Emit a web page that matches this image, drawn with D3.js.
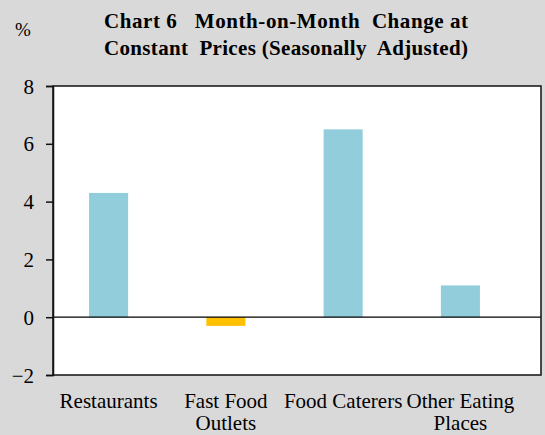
<!DOCTYPE html>
<html><head><meta charset="utf-8">
<script src="https://cdn.jsdelivr.net/npm/d3@7"></script>
<style>body{margin:0;background:#d9d9d9;} svg{display:block;}</style>
</head><body>
<script>
const categories = [["Restaurants"], ["Fast Food", "Outlets"], ["Food Caterers"], ["Other Eating", "Places"]];
const values = [4.3, -0.3, 6.5, 1.1];
const yTicks = [-2, 0, 2, 4, 6, 8];
const titleLines = ["Chart 6   Month-on-Month  Change at", "Constant  Prices (Seasonally  Adjusted)"];
const unitLabel = "%";

const FONT = "'Liberation Serif'";
const W = 545, H = 435;
const svg = d3.select("body").append("svg").attr("width", W).attr("height", H);
svg.append("rect").attr("width", W).attr("height", H).attr("fill", "#d9d9d9");

const plot = {left: 53, right: 541, top: 86, bottom: 375};
const y = d3.scaleLinear().domain([-2, 8]).range([plot.bottom, plot.top]);
const x = d3.scaleBand().domain(categories.map((c, i) => i)).range([50, 519]).paddingInner(0.667).paddingOuter(0.333);

svg.append("rect").attr("x", plot.left).attr("y", plot.top).attr("width", plot.right - plot.left).attr("height", plot.bottom - plot.top).attr("fill", "#fff");

svg.selectAll("rect.bar").data(values).enter().append("rect").attr("class", "bar")
  .attr("x", (d, i) => x(i)).attr("width", x.bandwidth())
  .attr("y", d => y(Math.max(0, d))).attr("height", d => Math.abs(y(d) - y(0)))
  .attr("fill", d => d < 0 ? "#ffc000" : "#92cddc");

svg.append("line").attr("x1", plot.left).attr("x2", plot.right).attr("y1", y(0)).attr("y2", y(0)).attr("stroke", "#000").attr("stroke-width", 1.2);
svg.append("rect").attr("x", plot.left).attr("y", plot.top).attr("width", plot.right - plot.left).attr("height", plot.bottom - plot.top).attr("fill", "none").attr("stroke", "#111").attr("stroke-width", 1.5);

const yAxis = d3.axisLeft(y).tickValues(yTicks).tickSize(7).tickPadding(12).tickFormat(d3.format("d"));
const ga = svg.append("g").attr("transform", `translate(${plot.left},0)`).call(yAxis);
ga.attr("font-family", null);
ga.select(".domain").attr("stroke", "#111").attr("stroke-width", 1.5);
ga.selectAll(".tick line").attr("stroke", "#111").attr("stroke-width", 1.5);
ga.selectAll(".tick text").style("font-family", FONT).style("font-size", "21px").attr("fill", "#000").attr("dy", "0.34em");

const xl = svg.append("g");
categories.forEach((lines, i) => {
  const t = xl.append("text").attr("text-anchor", "middle").style("font-family", FONT).style("font-size", "21px").attr("fill", "#000");
  lines.forEach((s, j) => t.append("tspan").attr("x", x(i) + x.bandwidth() / 2).attr("y", 408 + j * 22).text(s));
});

titleLines.forEach((s, j) => {
  svg.append("text").attr("x", 104).attr("y", 28 + j * 27)
    .attr("textLength", 364).attr("lengthAdjust", "spacing")
    .style("font-family", FONT).style("font-weight", "bold").style("font-size", "21px")
    .style("white-space", "pre").text(s);
});
svg.append("text").attr("x", 15).attr("y", 36).style("font-family", FONT).style("font-size", "19px").text(unitLabel);
</script>
</body></html>
